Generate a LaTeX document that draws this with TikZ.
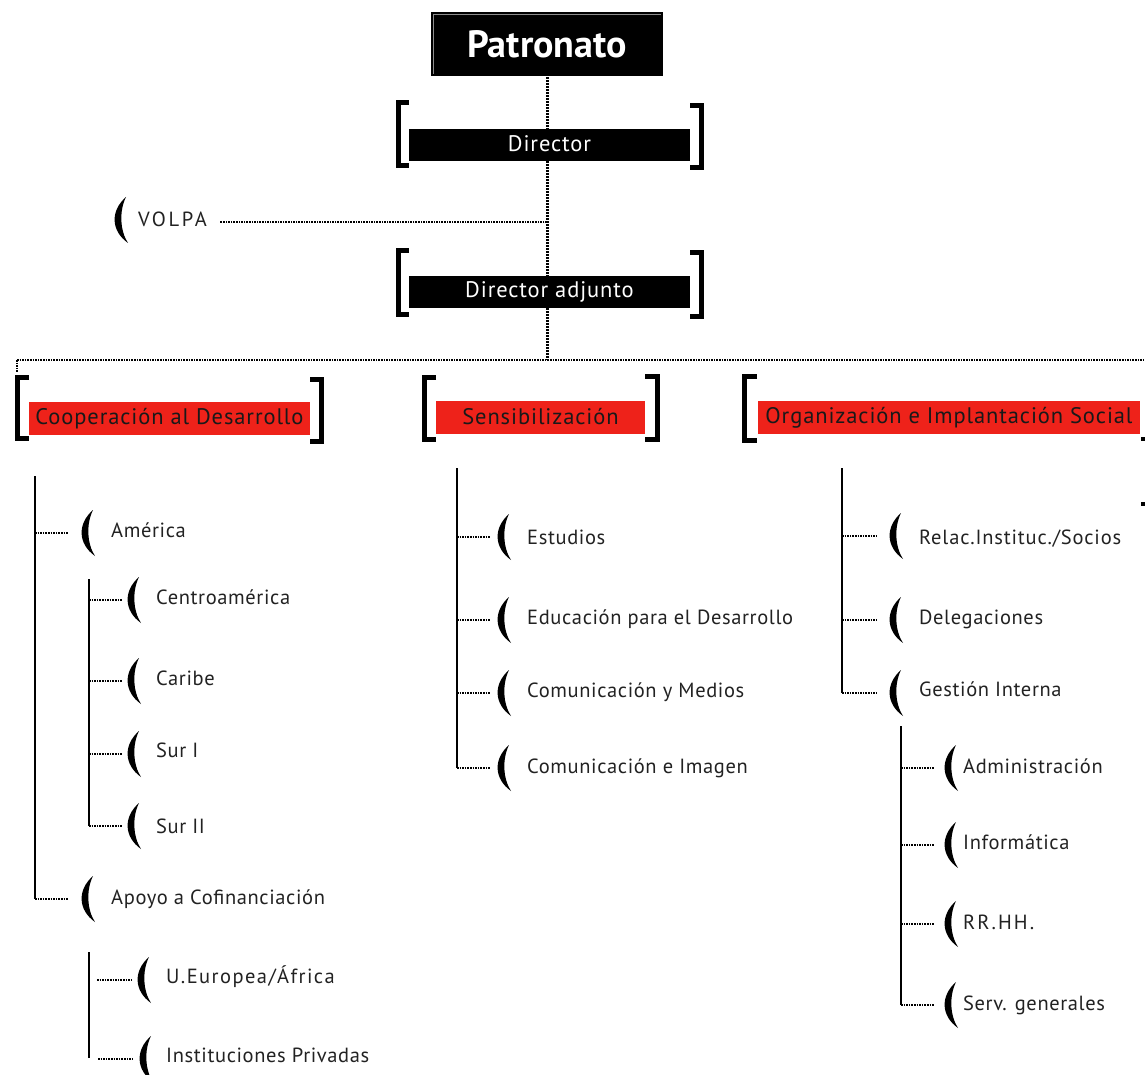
\documentclass[tikz,border=0pt]{standalone}
\usepackage{fontspec}
\setmainfont{PT Sans}
\definecolor{brred}{RGB}{238,34,26}
\definecolor{ink}{RGB}{34,34,34}
\newcommand{\lsp}[1]{\addfontfeatures{LetterSpace=#1}}
\tikzset{
  item/.style={anchor=base west, inner sep=0pt, font=\fontsize{20.5}{24}\selectfont\lsp{3}, text=ink},
  bar/.style={fill=black, text=white, minimum height=32pt, inner sep=0pt, font=\fontsize{22.5}{25}\selectfont\lsp{4}},
  redbar/.style={fill=brred, text=black!90, minimum height=33pt, inner sep=0pt, font=\fontsize{22.5}{25}\selectfont\lsp{4}},
  brk/.style={line width=5pt, black, line join=miter},
  trunk/.style={line width=2pt, black},
  dotc/.style={line width=2.2pt, dash pattern=on 1.6pt off 1pt},
  mainv/.style={line width=3pt, dash pattern=on 2pt off 1pt},
  paren/.pic={
    \fill[black] (5,-23) .. controls (-11,-9) and (-10,11) .. (7,23)
                  .. controls (-1,11) and (-2,-9) .. (5,-23) -- cycle;
    \coordinate (-w) at (-6,0);
  }
}
\begin{document}
\begin{tikzpicture}[x=1pt,y=-1pt]
\useasboundingbox (0,0) rectangle (1145,1075);

% ---------- top spine ----------
\node[fill=black, draw=black!45, line width=0.8pt, minimum width=228pt, minimum height=60pt, inner sep=0pt,
      text=white, font=\fontsize{38}{42}\selectfont\bfseries] (patronato) at (547,44) {Patronato};
\draw[black, line width=1.2pt] (432,13) rectangle (662,75);
\coordinate (hub) at (547,360);
\draw[mainv] (patronato.south) -- (hub);

% VOLPA
\pic (pvol) at (121,220) {paren};
\node[item, font=\fontsize{20.5}{24}\selectfont\lsp{13}] (volpa) at (138,227) {VOLPA};
\coordinate (volj) at (547,222);
\draw[dotc, line width=2pt] (volj) -- (volj -| 220,0);

% Director
\node[bar, minimum width=281pt] (director) at (549.5,145) {\raisebox{2pt}{Director}};
\draw[brk] (409,103) -- (398,103) -- (398,166) -- (409,166);
\draw[brk] (690,106) -- (701,106) -- (701,168) -- (690,168);

% Director adjunto
\node[bar, minimum width=281pt] (adjunto) at (549.5,292) {\raisebox{2pt}{Director adjunto}};
\draw[brk] (409,251) -- (398,251) -- (398,314) -- (409,314);
\draw[brk] (690,253) -- (701,253) -- (701,316) -- (690,316);

% horizontal distribution line
\coordinate (hl) at (17,360);
\coordinate (hr) at (1145,360);
\draw[dotc, line width=2pt] (hl) -- (hr);
\draw[dotc, line width=2pt] (hl) -- ++(0,12);

% ---------- department bars ----------
\node[redbar, minimum width=281pt] (coop) at (169.5,418.5) {\raisebox{1pt}{Cooperación al Desarrollo}};
\draw[brk] (29,377) -- (17.5,377) -- (17.5,438) -- (29,438);
\draw[brk] (310,379) -- (321.5,379) -- (321.5,441) -- (310,441);

\node[redbar, minimum width=209pt] (sens) at (540.5,417.5) {\raisebox{2pt}{Sensibilización}};
\draw[brk] (436,377) -- (424,377) -- (424,439) -- (436,439);
\draw[brk] (645,376) -- (657,376) -- (657,439) -- (645,439);

\node[redbar, minimum width=382pt] (org) at (949,417.5) {\raisebox{2pt}{Organización e Implantación Social}};
\draw[brk] (757,376) -- (744.5,376) -- (744.5,440) -- (757,440);
\fill[black] (1141,437) rectangle (1145,441);
\fill[black] (1141,502) rectangle (1145,506);

% ---------- column 1 ----------
\coordinate (c1top) at (35,476);
\pic (pam) at (88,533) {paren};
\node[item] (america) at (111,537) {América};
\pic (pap) at (88,899) {paren};
\node[item] (apoyo) at (111,904) {Apoyo a Cofinanciación};
\draw[trunk] (c1top) -- (c1top |- pap-w);
\draw[dotc] (c1top |- pam-w) -- ([xshift=-14pt]pam-w);
\draw[dotc] (c1top |- pap-w) -- ([xshift=-14pt]pap-w);

\coordinate (c1atop) at (89,579);
\pic (pce) at (134,600) {paren};
\node[item] (centro) at (156,604) {Centroamérica};
\pic (pca) at (134,681) {paren};
\node[item] (caribe) at (156,685) {Caribe};
\pic (ps1) at (134,754) {paren};
\node[item] (sur1) at (156,757) {Sur I};
\pic (ps2) at (134,826) {paren};
\node[item] (sur2) at (156,833) {Sur II};
\draw[trunk] (c1atop) -- (c1atop |- ps2-w);
\foreach \p in {pce,pca,ps1,ps2}
  \draw[dotc] (c1atop |- \p-w) -- ([xshift=-6pt]\p-w);

\coordinate (c1btop) at (89,952);
\coordinate (c1bbot) at (89,1058);
\draw[trunk] (c1btop) -- (c1bbot);
\pic (pue) at (144,980) {paren};
\node[item, font=\fontsize{20.5}{24}\selectfont\lsp{7}] (ueuropea) at (166,983) {U.Europea/África};
\pic (pin) at (146,1059) {paren};
\node[item] (instit) at (166,1062) {Instituciones Privadas};
\draw[dotc] ([xshift=8pt]c1btop |- pue-w) -- ([xshift=-5pt]pue-w);
\draw[dotc] ([xshift=9pt]c1btop |- pin-w) -- ([xshift=-7pt]pin-w);

% ---------- column 2 ----------
\coordinate (c2top) at (457,468);
\pic (pes) at (504,537) {paren};
\node[item] (estudios) at (527,544) {Estudios};
\pic (ped) at (504,620) {paren};
\node[item] (educ) at (527,624) {Educación para el Desarrollo};
\pic (pcm) at (504,693) {paren};
\node[item] (commed) at (527,697) {Comunicación y Medios};
\pic (pci) at (504,768) {paren};
\node[item] (comimg) at (527,773) {Comunicación e Imagen};
\draw[trunk] (c2top) -- (c2top |- pci-w);
\foreach \p in {pes,ped,pcm,pci}
  \draw[dotc] (c2top |- \p-w) -- ([xshift=-8pt]\p-w);

% ---------- column 3 ----------
\coordinate (c3top) at (842,468);
\pic (pre) at (896,536) {paren};
\node[item, font=\fontsize{20.5}{24}\selectfont\lsp{4}] (relac) at (919,544) {Relac.Instituc./Socios};
\pic (pde) at (896,620) {paren};
\node[item] (deleg) at (919,624) {Delegaciones};
\pic (pge) at (896,693) {paren};
\node[item] (gestion) at (919,696) {Gestión Interna};
\draw[trunk] (c3top) -- (c3top |- pge-w);
\foreach \p in {pre,pde,pge}
  \draw[dotc] (c3top |- \p-w) -- ([xshift=-14pt]\p-w);

\coordinate (c3atop) at (901,726);
\pic (pad) at (951,768) {paren};
\node[item] (admin) at (963,773) {Administración};
\pic (pif) at (951,845) {paren};
\node[item] (inform) at (963,849) {Informática};
\pic (prr) at (951,924) {paren};
\node[item, font=\fontsize{20.5}{24}\selectfont\lsp{10}] (rrhh) at (963,929) {RR.HH.};
\pic (psg) at (951,1005) {paren};
\node[item] (serv) at (963,1010) {Serv. generales};
\draw[trunk] (c3atop) -- (c3atop |- psg-w);
\foreach \p in {pad,pif,prr,psg}
  \draw[dotc] (c3atop |- \p-w) -- ([xshift=-11pt]\p-w);
\end{tikzpicture}
\end{document}
